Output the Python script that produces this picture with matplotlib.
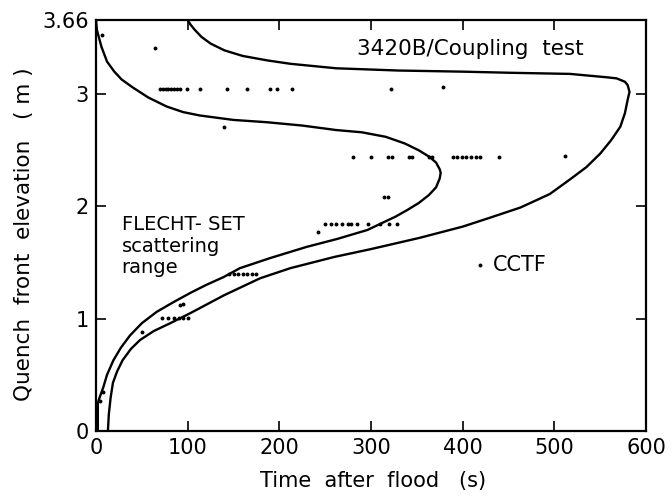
import numpy as np
import matplotlib
matplotlib.use('Agg')
import matplotlib.pyplot as plt

# Upper/right bound of the scattering band (time s, elevation m)
outer_t = [13, 14, 16, 18.5, 23, 29, 38, 48, 63, 81, 103, 140, 179, 212, 260,
           300, 353, 400, 430, 463, 495, 517, 535, 550, 562, 572, 577, 580,
           582, 580, 577, 568, 557, 517, 452, 400, 330, 262, 212, 187, 160,
           140, 125, 115, 108, 103, 100]
outer_z = [0.0, 0.15, 0.30, 0.43, 0.53, 0.63, 0.73, 0.81, 0.89, 0.96, 1.05,
           1.21, 1.36, 1.45, 1.55, 1.62, 1.72, 1.82, 1.90, 1.99, 2.11, 2.24,
           2.35, 2.47, 2.59, 2.71, 2.83, 2.95, 3.02, 3.08, 3.11, 3.14, 3.15,
           3.18, 3.19, 3.20, 3.21, 3.23, 3.27, 3.30, 3.34, 3.39, 3.45, 3.51,
           3.57, 3.62, 3.66]

# Lower/left bound of the scattering band
inner_t = [0, 1, 6, 12, 20, 28, 40, 57, 77, 95, 113, 150, 186, 225, 262, 290,
           316, 337, 352, 364, 371, 375, 376, 375, 371, 363, 352, 340, 327,
           296, 263, 230, 190, 157, 139, 120, 103, 85, 66, 50, 37, 27, 19, 12,
           8, 4, 2, 2]
inner_z = [3.66, 3.57, 3.42, 3.29, 3.20, 3.13, 3.06, 2.97, 2.89, 2.84, 2.81,
           2.77, 2.75, 2.72, 2.68, 2.66, 2.62, 2.56, 2.50, 2.44, 2.39, 2.33,
           2.30, 2.25, 2.17, 2.10, 2.03, 1.97, 1.91, 1.79, 1.71, 1.64, 1.54,
           1.45, 1.37, 1.30, 1.23, 1.15, 1.06, 0.96, 0.85, 0.74, 0.63, 0.50,
           0.39, 0.30, 0.25, 0.0]

# CCTF quench front data
cctf_t = [6, 64, 70, 73, 76, 79, 82, 85, 88, 92, 99, 113, 143, 165, 190, 197,
          214, 322, 379, 140,
          280, 300, 319, 323, 341, 345, 363, 366, 389, 394, 399, 404, 409, 414,
          419, 440, 512, 314, 319,
          250, 256, 262, 268, 275, 278, 285, 297, 310, 320, 328, 242,
          145, 150, 155, 160, 165, 170, 175,
          72, 78, 85, 90, 95, 100, 92, 95, 50, 8, 4]
cctf_z = [3.53, 3.41, 3.05, 3.05, 3.05, 3.05, 3.05, 3.05, 3.05, 3.05, 3.05,
          3.05, 3.05, 3.05, 3.05, 3.05, 3.05, 3.05, 3.06, 2.71,
          2.44, 2.44, 2.44, 2.44, 2.44, 2.44, 2.44, 2.44, 2.44, 2.44, 2.44,
          2.44, 2.44, 2.44, 2.44, 2.44, 2.45, 2.08, 2.08,
          1.84, 1.84, 1.84, 1.84, 1.84, 1.84, 1.84, 1.84, 1.84, 1.84, 1.84,
          1.77,
          1.40, 1.40, 1.40, 1.40, 1.40, 1.40, 1.40,
          1.01, 1.01, 1.01, 1.01, 1.01, 1.01, 1.12, 1.13, 0.88, 0.35, 0.27]

x_ticks = [0, 100, 200, 300, 400, 500, 600]
y_ticks = [0, 1, 2, 3, 3.66]
y_ticklabels = ['0', '1', '2', '3', '3.66']

plt.rcParams['font.family'] = ['DejaVu Sans']

fig = plt.figure(figsize=(6.72, 4.96), dpi=100)
ax = fig.add_axes([96 / 672, 65 / 496, 550 / 672, 411 / 496])

ax.plot(outer_t, outer_z, color='black', lw=1.7, solid_joinstyle='round')
ax.plot(inner_t, inner_z, color='black', lw=1.7, solid_joinstyle='round')
ax.plot(cctf_t, cctf_z, ls='none', marker='o', ms=1.8, color='black')

ax.set_xlim(0, 600)
ax.set_ylim(0, 3.66)
ax.set_xticks(x_ticks)
ax.set_yticks(y_ticks)
ax.set_yticklabels(y_ticklabels)
ax.tick_params(direction='in', length=7, width=1.2, labelsize=15, pad=5,
               top=True, right=True)
for s in ax.spines.values():
    s.set_linewidth(1.6)

ax.set_xlabel('Time  after  flood   (s)', fontsize=15, va='center')
ax.set_ylabel('Quench  front  elevation   ( m )', fontsize=15.5, va='center')
ax.xaxis.set_label_coords(0.504, -0.122)
ax.yaxis.set_label_coords(-0.131, 0.48)

ax.text(408, 3.40, '3420B/Coupling  test', fontsize=15.5, ha='center',
        va='center')
ax.text(28, 1.92, 'FLECHT- SET\nscattering\nrange', fontsize=14, ha='left',
        va='top', linespacing=1.15)
ax.plot([419], [1.48], ls='none', marker='o', ms=1.8, color='black')
ax.text(433, 1.48, 'CCTF', fontsize=15, ha='left', va='center')

plt.savefig('out.png', dpi=100)
plt.close()
